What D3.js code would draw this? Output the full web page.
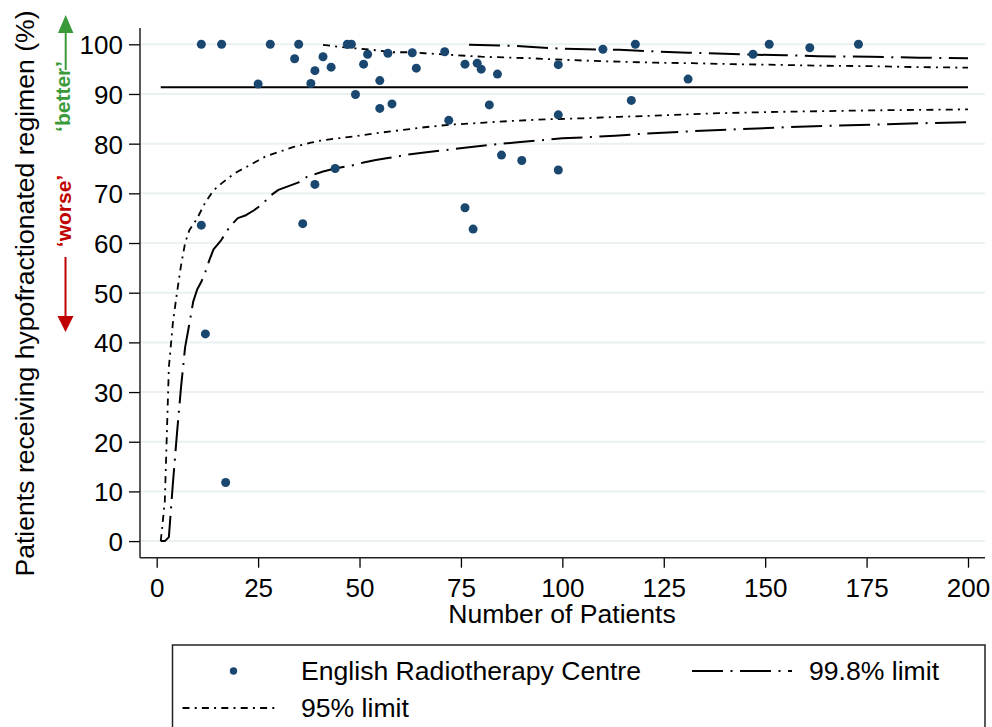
<!DOCTYPE html>
<html><head><meta charset="utf-8">
<script src="https://cdn.jsdelivr.net/npm/d3@7"></script>
<style>
html,body{margin:0;padding:0;background:#fff;}
svg{display:block;font-family:"Liberation Sans",Arial,Helvetica,sans-serif;}
</style></head>
<body>
<svg id="chart" width="992" height="727"></svg>
<script>
// ---- data ----
const centreN   = [11,16,28,35,34,41,39,43,25,38,47,48,52,51,57,55,49,55,58,44,39,63,71,64,76,79,80,84,99,110,82,72,99,85,90,99,118,151,161,173,147,131,117,11,36,76,78,12,17];
const centrePct = [100,100,100,100,97.1,97.5,94.7,95.4,92.0,92.1,100,100,98.0,96.0,98.2,92.7,89.9,87.1,88.0,75.0,71.8,98.3,98.5,95.2,96.0,96.2,95.0,94.0,95.9,99.0,87.8,84.7,85.8,77.7,76.6,74.7,100,100,99.3,100,98.0,93.0,88.7,63.6,63.9,67.1,62.8,41.7,11.8];

const refN   = [1,200];
const refPct = [91.35,91.35];

const lower95N   = [1,2,3,4,5,6,7,8,10,12,14,16,18,20,23,25,27,30,34,38,41,45,49,55,60,66,72,80,88,96,105,114,125,137,153,176,200];
const lower95Pct = [0,8,35,44,50,55.5,60,62.5,65,68.2,70.6,72,73.3,74.4,75.7,76.6,77.5,78.3,79.4,80.2,80.7,81.1,81.5,82.2,82.7,83.3,83.8,84.2,84.6,84.9,85.1,85.4,85.7,86.1,86.4,86.7,86.9];

const upper95N   = [41,45,50,53,58,62,66,72,80,92,100,106,114,123,132,142,151,163,176,188,200];
const upper95Pct = [99.9,99.5,99.1,98.9,98.4,98.4,98.2,97.9,97.5,97.2,96.9,96.7,96.5,96.3,96.2,96.0,95.9,95.7,95.6,95.4,95.3];

const lower998N   = [1,2,3,4,5,6,7,8,9,10,11,12,13,14,15,16,18,20,22,24,26,28,30,32,35,37,41,44,48,51,54,57,62,66,72,77,83,89,95,100,106,113,120,132,143,155,166,176,188,200];
const lower998Pct = [0,0,0.8,11.7,21.7,31,39,43.5,48.2,50.7,52.2,54.2,56.6,58.7,59.7,60.7,63.3,65.0,65.6,66.6,67.8,69.5,70.7,71.3,72.2,73.3,74.4,75.0,75.6,76.2,76.7,77.1,77.8,78.2,78.8,79.3,79.8,80.3,80.7,81.1,81.3,81.6,82.0,82.5,82.9,83.3,83.6,83.8,84.1,84.3];

const upper998N   = [77,88,100,106,114,119,131,140,147,155,163,176,188,200];
const upper998Pct = [99.9,99.7,99.1,99.0,98.9,98.7,98.3,98.1,97.9,97.8,97.6,97.5,97.3,97.2];

const xTicks = [0,25,50,75,100,125,150,175,200];
const yTicks = [0,10,20,30,40,50,60,70,80,90,100];

const xTitle = "Number of Patients";
const yTitle = "Patients receiving hypofractionated regimen (%)";
const legendLabels = ["English Radiotherapy Centre","99.8% limit","95% limit"];
const betterLabel = "\u2018better\u2019";
const worseLabel = "\u2018worse\u2019";

// ---- layout ----
const svg = d3.select("#chart");
const plotL = 140, plotR = 985, plotT = 28, plotB = 557.7;
const x = d3.scaleLinear().domain([0,200]).range([156.7,968]);
const y = d3.scaleLinear().domain([0,100]).range([541.1,44.3]);
const FONT = 26, TFONT = 26.6;
const dotColor = "#1a476f";
const dash998 = "31,7.5,2,7.5";
const dash95 = "7,5.2,2,5.2";

svg.append("rect").attr("width",992).attr("height",727).attr("fill","#fff");

// gridlines
svg.append("g").selectAll("line").data(yTicks).join("line")
  .attr("x1",plotL).attr("x2",plotR)
  .attr("y1",d=>y(d)).attr("y2",d=>y(d))
  .attr("stroke","#eaf1f3").attr("stroke-width",2);

// axes
const yAxis = d3.axisLeft(y).tickValues(yTicks).tickSize(11).tickPadding(6).tickFormat(d3.format("d"));
const gy = svg.append("g").attr("transform",`translate(${plotL},0)`).call(yAxis);
gy.select(".domain").remove();
gy.selectAll(".tick line").attr("stroke","#000").attr("stroke-width",1.3);
gy.selectAll(".tick text").attr("font-size",FONT).attr("fill","#000").attr("font-family","Liberation Sans, Arial, sans-serif").attr("dy","0.36em");
svg.append("line").attr("x1",plotL).attr("x2",plotL).attr("y1",plotT).attr("y2",plotB)
  .attr("stroke","#222").attr("stroke-width",1.5);

const xAxis = d3.axisBottom(x).tickValues(xTicks).tickSize(10).tickPadding(10.5).tickFormat(d3.format("d"));
const gx = svg.append("g").attr("transform",`translate(0,${plotB})`).call(xAxis);
gx.select(".domain").remove();
gx.selectAll(".tick line").attr("stroke","#000").attr("stroke-width",1.3);
gx.selectAll(".tick text").attr("font-size",FONT).attr("fill","#000").attr("font-family","Liberation Sans, Arial, sans-serif").attr("dy","0.72em");
svg.append("line").attr("x1",plotL).attr("x2",plotR).attr("y1",plotB).attr("y2",plotB)
  .attr("stroke","#222").attr("stroke-width",1.5);

// titles
svg.append("text").attr("x",562).attr("y",623).attr("text-anchor","middle")
  .attr("font-size",TFONT).attr("fill","#000").text(xTitle);
svg.append("text").attr("transform","translate(34,293.5) rotate(-90)").attr("text-anchor","middle")
  .attr("font-size",TFONT).attr("fill","#000").text(yTitle);

// better / worse annotation
const green = "#3a9a3a", red = "#c00000";
svg.append("text").attr("transform","translate(70,96.5) rotate(-90)").attr("text-anchor","middle")
  .attr("font-size",21).attr("font-weight","bold").attr("fill",green).text(betterLabel);
svg.append("line").attr("x1",65.7).attr("x2",65.7).attr("y1",70).attr("y2",31).attr("stroke",green).attr("stroke-width",2);
svg.append("path").attr("d","M65.7,15 L58,33 L73.4,33 Z").attr("fill",green);
svg.append("text").attr("transform","translate(70.5,211) rotate(-90)").attr("text-anchor","middle")
  .attr("font-size",21).attr("font-weight","bold").attr("fill",red).text(worseLabel);
svg.append("line").attr("x1",65.5).attr("x2",65.5).attr("y1",257).attr("y2",318).attr("stroke",red).attr("stroke-width",2);
svg.append("path").attr("d","M65.5,332 L57.5,316 L73.5,316 Z").attr("fill",red);

// lines
const line = d3.line().x(d=>x(d[0])).y(d=>y(d[1]));
function drawLine(ns, ps, dash, w){
  svg.append("path").datum(ns.map((n,i)=>[n,ps[i]]))
    .attr("d",line).attr("fill","none").attr("stroke","#000")
    .attr("stroke-width",w).attr("stroke-dasharray",dash).attr("stroke-linejoin","round");
}
drawLine(refN, refPct, null, 2);
drawLine(lower998N, lower998Pct, dash998, 2);
drawLine(upper998N, upper998Pct, dash998, 2);
drawLine(lower95N, lower95Pct, dash95, 1.8);
drawLine(upper95N, upper95Pct, dash95, 1.8);

// points
svg.append("g").selectAll("circle").data(centreN.map((n,i)=>[n,centrePct[i]])).join("circle")
  .attr("cx",d=>x(d[0])).attr("cy",d=>y(d[1])).attr("r",4.5).attr("fill",dotColor);

// legend
svg.append("rect").attr("x",172.5).attr("y",645).attr("width",812.5).attr("height",110)
  .attr("fill","none").attr("stroke","#222").attr("stroke-width",1.5);
svg.append("circle").attr("cx",233.5).attr("cy",671).attr("r",3.7).attr("fill",dotColor);
svg.append("text").attr("x",301).attr("y",680).attr("font-size",TFONT).attr("fill","#000").text(legendLabels[0]);
svg.append("line").attr("x1",692).attr("x2",792).attr("y1",671).attr("y2",671)
  .attr("stroke","#000").attr("stroke-width",2).attr("stroke-dasharray",dash998);
svg.append("text").attr("x",809).attr("y",680).attr("font-size",TFONT).attr("fill","#000").text(legendLabels[1]);
svg.append("line").attr("x1",182.5).attr("x2",276).attr("y1",708).attr("y2",708)
  .attr("stroke","#000").attr("stroke-width",1.8).attr("stroke-dasharray",dash95);
svg.append("text").attr("x",301).attr("y",717).attr("font-size",TFONT).attr("fill","#000").text(legendLabels[2]);
</script>
</body></html>
